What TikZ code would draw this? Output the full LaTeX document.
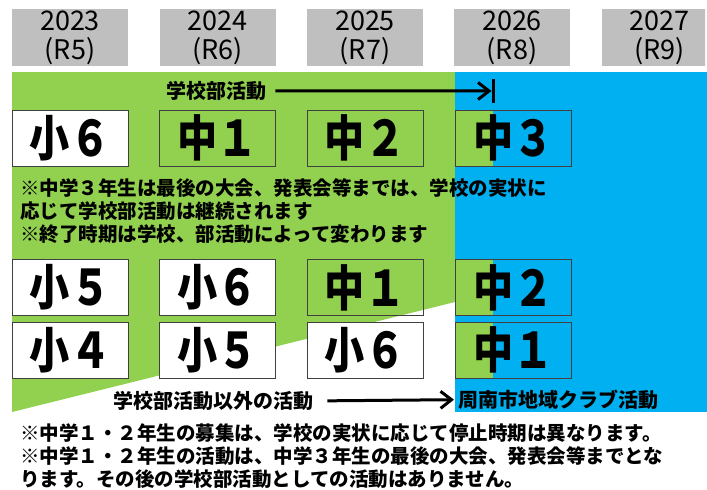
\documentclass[tikz,border=0pt]{standalone}
\usepackage{fontspec}
\newfontfamily\jp{Noto Sans CJK JP}
\usetikzlibrary{arrows.meta}
\definecolor{grn}{HTML}{92D050}
\definecolor{blu}{HTML}{00B0F0}
\definecolor{gry}{HTML}{BFBFBF}
\definecolor{bdr}{HTML}{404040}
\tikzset{
 year/.style={fill=gry, minimum width=116pt, minimum height=57pt, inner sep=0pt, align=center, font=\jp\fontsize{27}{29}\selectfont},
 grade/.style={draw=bdr, line width=0.8pt, minimum width=116pt, minimum height=56pt, inner sep=0pt, font=\jp\bfseries\fontsize{49}{49}\selectfont},
 note/.style={anchor=base west, inner sep=0pt, font=\jp\bfseries\fontsize{19.5}{22}\selectfont},
 lbl/.style={anchor=base west, inner sep=0pt, font=\jp\bfseries\fontsize{20}{22}\selectfont},
 arr/.style={line width=3pt, -{Straight Barb[length=11pt,width=17pt,line width=3pt]}}
}
\newcommand{\glab}[1]{\scalebox{0.82}[1]{#1}}
\begin{document}
\begin{tikzpicture}[x=1pt,y=-1pt]
\useasboundingbox (0,0) rectangle (707,490);
% background areas
\fill[grn] (12,72) -- (455,72) -- (455,302) -- (12,412) -- cycle;
\fill[blu] (455,72) rectangle (707,412);
% years
\node[year] (y1) at (70,37.5) {2023\\(R5)};
\node[year] (y2) at (217.5,37.5) {2024\\(R6)};
\node[year] (y3) at (365,37.5) {2025\\(R7)};
\node[year] (y4) at (512,37.5) {2026\\(R8)};
\begin{scope}
\clip (0,0) rectangle (705,490);
\node[year] (y5) at (659.5,37.5) {2027\\(R9)};
\end{scope}
% partial green inside column 4
\fill[grn] (455,110) rectangle (493,166);
\fill[grn] (455,259) rectangle (493,316);
\fill[grn] (455,322) rectangle (493,378);
% grade boxes
\node[grade, fill=white] (a1) at (70,138) {\glab{小６}};
\node[grade] (a2) at (217.5,138) {\glab{中１}};
\node[grade] (a3) at (365,138) {\glab{中２}};
\node[grade] (a4) at (513.5,138) {\glab{中３}};
\node[grade, fill=white] (b1) at (70,287.5) {\glab{小５}};
\node[grade, fill=white] (b2) at (217.5,287.5) {\glab{小６}};
\node[grade] (b3) at (365,287.5) {\glab{中１}};
\node[grade] (b4) at (513.5,287.5) {\glab{中２}};
\node[grade, fill=white] (c1) at (70,350) {\glab{小４}};
\node[grade, fill=white] (c2) at (217.5,350) {\glab{小５}};
\node[grade, fill=white] (c3) at (365,350) {\glab{小６}};
\node[grade] (c4) at (513.5,350) {\glab{中１}};
% top arrow
\node[lbl] (t1) at (166,98.4) {学校部活動};
\coordinate (bar) at (493,91);
\draw[arr] ([xshift=9pt]t1.east) -- ([xshift=-1.5pt]bar);
\draw[line width=3pt] ([yshift=-12pt]bar) -- ([yshift=12pt]bar);
% notes
\node[note] (n1) at (20,195.4) {※中学３年生は最後の大会、発表会等までは、学校の実状に};
\node[note] (n2) at (20,218.4) {応じて学校部活動は継続されます};
\node[note] (n3) at (20,241.4) {※終了時期は学校、部活動によって変わります};
% bottom arrow
\node[lbl] (t2) at (113,408.4) {学校部活動以外の活動};
\node[lbl] (t3) at (458,407.4) {周南市地域クラブ活動};
\draw[arr] ([xshift=14pt]t2.east) -- ([xshift=-4pt]t3.west);
% bottom notes
\node[note] (m1) at (20,440) {※中学１・２年生の募集は、学校の実状に応じて停止時期は異なります。};
\node[note] (m2) at (20,463) {※中学１・２年生の活動は、中学３年生の最後の大会、発表会等までとな};
\node[note] (m3) at (20,486) {ります。その後の学校部活動としての活動はありません。};
\end{tikzpicture}
\end{document}
